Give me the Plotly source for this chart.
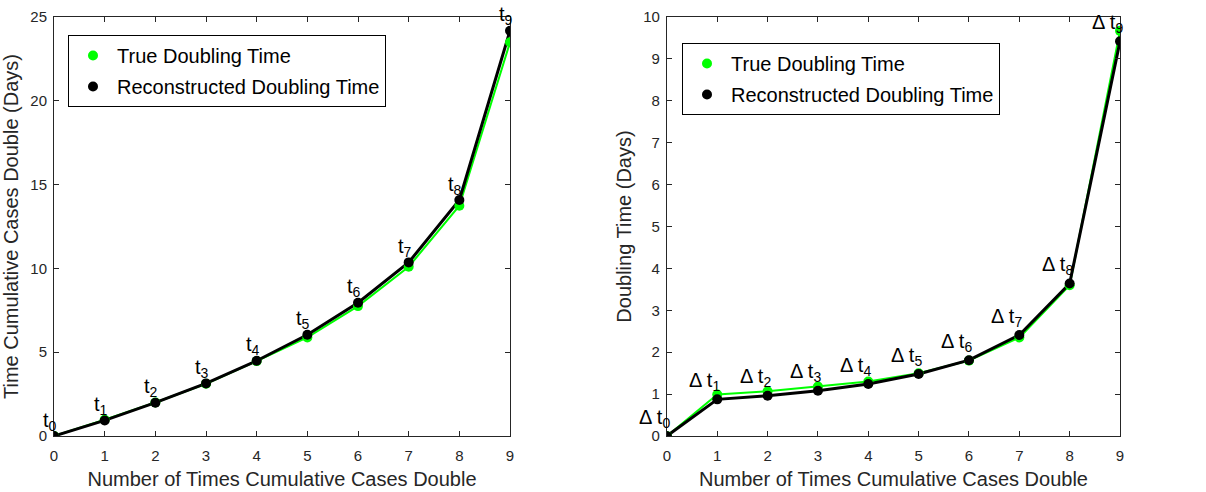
import plotly.graph_objects as go

n = [0, 1, 2, 3, 4, 5, 6, 7, 8, 9]
cum_true = [0, 0.97, 2.0, 3.12, 4.47, 5.88, 7.75, 10.1, 13.74, 23.49]
cum_recon = [0, 0.93, 1.99, 3.14, 4.49, 6.04, 7.95, 10.36, 14.08, 24.18]
dt_true = [0, 0.99, 1.07, 1.18, 1.30, 1.50, 1.80, 2.35, 3.60, 9.67]
dt_recon = [0, 0.875, 0.96, 1.08, 1.24, 1.48, 1.81, 2.41, 3.64, 9.42]

GREEN = "#00ff00"
INK = "#262626"
FONT = "Liberation Sans Narrow, Nimbus Sans Narrow, Arial Narrow, Liberation Sans, Arial, sans-serif"

fig = go.Figure()

def add_pair(xref, yref, yt, yr, legend):
    fig.add_trace(go.Scatter(x=n, y=yt, mode="lines", line=dict(color=GREEN, width=2),
                             xaxis=xref, yaxis=yref, showlegend=False))
    fig.add_trace(go.Scatter(x=n, y=yr, mode="lines", line=dict(color="black", width=3),
                             xaxis=xref, yaxis=yref, showlegend=False))
    fig.add_trace(go.Scatter(x=n, y=yt, mode="markers", marker=dict(color=GREEN, size=10),
                             name="True Doubling Time", xaxis=xref, yaxis=yref, legend=legend,
                             legendgroup=legend + "a"))
    fig.add_trace(go.Scatter(x=n, y=yr, mode="markers", marker=dict(color="black", size=10),
                             name="Reconstructed Doubling Time", xaxis=xref, yaxis=yref, legend=legend,
                             legendgroup=legend + "b"))

add_pair("x", "y", cum_true, cum_recon, "legend")
add_pair("x2", "y2", dt_true, dt_recon, "legend2")

ann = []
for i, (xv, yv) in enumerate(zip(n, cum_recon)):
    ann.append(dict(x=xv, y=yv, xref="x", yref="y", text=f"t<sub>{i}</sub>",
                    xshift=-13, yshift=15,
                    showarrow=False, xanchor="left", yanchor="middle",
                    font=dict(family=FONT, size=20, color="black")))
for i, (xv, yv) in enumerate(zip(n, dt_recon)):
    ann.append(dict(x=xv, y=yv, xref="x2", yref="y2", text=f"Δ t<sub>{i}</sub>",
                    xshift=-30, yshift=18,
                    showarrow=False, xanchor="left", yanchor="middle",
                    font=dict(family=FONT, size=20, color="black")))

axis_common = dict(showline=True, linecolor=INK, linewidth=1, mirror="ticks", ticks="inside",
                   ticklen=5, tickcolor=INK, showgrid=False, zeroline=False, automargin=False,
                   tickfont=dict(family=FONT, size=15, color=INK))

xt = dict(text="Number of Times Cumulative Cases Double",
          font=dict(family=FONT, size=20, color=INK), standoff=8)

leg_common = dict(xanchor="left", yanchor="top", bordercolor="black", borderwidth=1,
                  bgcolor="white", font=dict(family=FONT, size=20, color="black"),
                  tracegroupgap=2, itemwidth=38)

fig.update_layout(
    width=1206, height=492,
    margin=dict(l=0, r=0, t=0, b=0, autoexpand=False),
    paper_bgcolor="white", plot_bgcolor="white",
    font=dict(family=FONT),
    xaxis=dict(domain=[0.0448, 0.4229], range=[0, 9], tickvals=n, title=xt, anchor="y",
               ticklabelstandoff=6, **axis_common),
    yaxis=dict(domain=[0.1138, 0.9654], range=[0, 25], tickvals=[0, 5, 10, 15, 20, 25],
               title=dict(text="Time Cumulative Cases Double (Days)",
                          font=dict(family=FONT, size=20, color=INK), standoff=6),
               anchor="x", ticklabelstandoff=3, **axis_common),
    xaxis2=dict(domain=[0.553, 0.9287], range=[0, 9], tickvals=n, title=xt, anchor="y2",
                ticklabelstandoff=6, **axis_common),
    yaxis2=dict(domain=[0.1138, 0.9654], range=[0, 10], tickvals=list(range(11)),
                title=dict(text="Doubling Time (Days)",
                           font=dict(family=FONT, size=20, color=INK), standoff=6),
                anchor="x2", ticklabelstandoff=3, **axis_common),
    legend=dict(x=68 / 1206, y=1 - 35 / 492, **leg_common),
    legend2=dict(x=682 / 1206, y=1 - 43 / 492, **leg_common),
    annotations=ann,
)

fig.write_html("out.html")
